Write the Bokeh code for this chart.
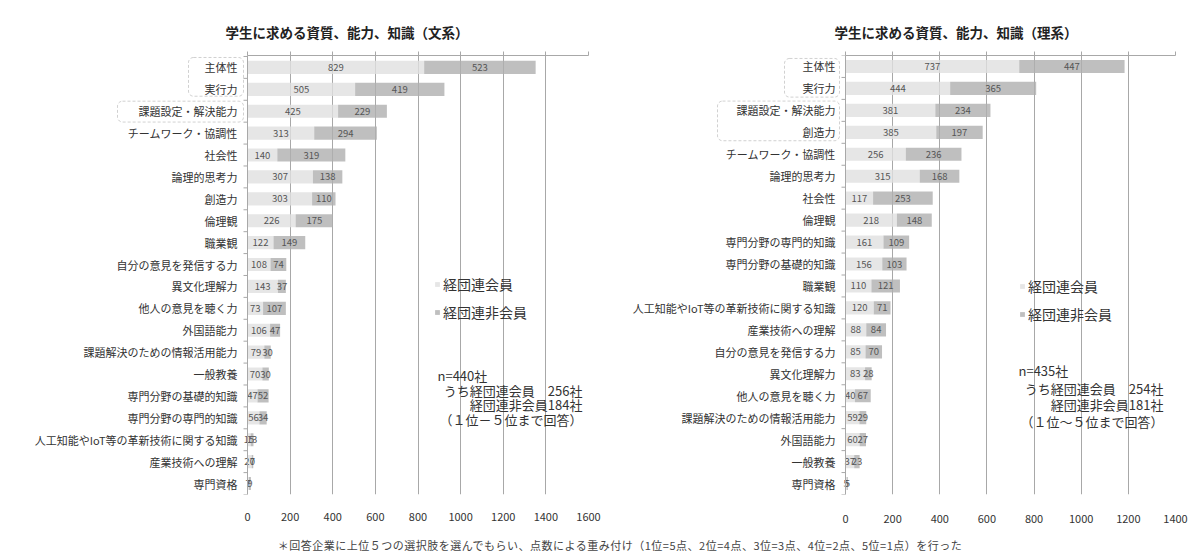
from bokeh.plotting import figure
from bokeh.models import (Range1d, FixedTicker, LinearAxis, Label, BoxAnnotation,
                          Legend, LegendItem, Div, ColumnDataSource, Span)
from bokeh.layouts import row, column
from bokeh.embed import file_html
from bokeh.resources import INLINE
from bokeh.core.properties import value

JP = "Noto Sans CJK JP"
LIGHT = "#e0e0e0"
DARK = "#afafaf"
GRID = "#a8a8a8"

# ---- data: 文系 ----
bun_title = "学生に求める資質、能力、知識（文系）"
bun_categories = ["主体性", "実行力", "課題設定・解決能力", "チームワーク・協調性", "社会性",
                  "論理的思考力", "創造力", "倫理観", "職業観", "自分の意見を発信する力",
                  "異文化理解力", "他人の意見を聴く力", "外国語能力", "課題解決のための情報活用能力",
                  "一般教養", "専門分野の基礎的知識", "専門分野の専門的知識",
                  "人工知能やIoT等の革新技術に関する知識", "産業技術への理解", "専門資格"]
bun_members = [829, 505, 425, 313, 140, 307, 303, 226, 122, 108, 143, 73, 106, 79, 70, 47, 56, 15, 20, 7]
bun_nonmembers = [523, 419, 229, 294, 319, 138, 110, 175, 149, 74, 37, 107, 47, 30, 30, 52, 34, 13, 7, 9]
bun_ticks = [0, 200, 400, 600, 800, 1000, 1200, 1400, 1600]
bun_notes = ["n=440社", "うち経団連会員　256社", "経団連非会員184社", "（１位－５位まで回答）"]

# ---- data: 理系 ----
ri_title = "学生に求める資質、能力、知識（理系）"
ri_categories = ["主体性", "実行力", "課題設定・解決能力", "創造力", "チームワーク・協調性",
                 "論理的思考力", "社会性", "倫理観", "専門分野の専門的知識", "専門分野の基礎的知識",
                 "職業観", "人工知能やIoT等の革新技術に関する知識", "産業技術への理解",
                 "自分の意見を発信する力", "異文化理解力", "他人の意見を聴く力",
                 "課題解決のための情報活用能力", "外国語能力", "一般教養", "専門資格"]
ri_members = [737, 444, 381, 385, 256, 315, 117, 218, 161, 156, 110, 120, 88, 85, 83, 40, 59, 60, 37, 5]
ri_nonmembers = [447, 365, 234, 197, 236, 168, 253, 148, 109, 103, 121, 71, 84, 70, 28, 67, 29, 27, 23, 5]
ri_ticks = [0, 200, 400, 600, 800, 1000, 1200, 1400]
ri_notes = ["n=435社", "うち経団連会員　254社", "経団連非会員181社", "（１位～５位まで回答）"]

legend_labels = ["経団連会員", "経団連非会員"]
footnote = "＊回答企業に上位５つの選択肢を選んでもらい、点数による重み付け（1位=5点、2位=4点、3位=3点、4位=2点、5位=1点）を行った"

H = 533


def make_chart(cats, mem, non, ticks, width, fig_x, zero_px, max_px, br, bt, bb,
               ystart, yend, standoff, title, title_left):
    n = len(cats)
    bl = 2
    ppu = (max_px - zero_px) / ticks[-1]          # pixels per unit
    x_start = -(zero_px - (fig_x + bl)) / ppu
    p = figure(width=width, height=H, x_range=Range1d(x_start, ticks[-1]),
               y_range=Range1d(ystart, yend), output_backend="svg",
               toolbar_location=None, tools="", min_border_left=bl,
               min_border_right=br, min_border_top=bt, min_border_bottom=bb)
    p.outline_line_color = None
    p.background_fill_color = "white"
    p.border_fill_color = "white"

    p.title.text = title
    p.title.align = "left"
    p.title.offset = title_left - (fig_x + bl)
    p.title.text_font = JP
    p.title.text_font_size = "13.5px"
    p.title.text_font_style = "bold"
    p.title.text_color = "#222222"
    p.title.standoff = 20

    rows = list(range(n))
    src = ColumnDataSource(dict(
        y=rows, cat=cats, mem=mem, tot=[a + b for a, b in zip(mem, non)],
        memc=[a / 2 for a in mem], nonc=[a + b / 2 for a, b in zip(mem, non)],
        meml=[str(a) for a in mem], nonl=[str(b) for b in non]))
    r1 = p.hbar(y="y", left=0, right="mem", height=0.6, fill_color=LIGHT,
                fill_alpha=0.8, line_color=None, source=src)
    r2 = p.hbar(y="y", left="mem", right="tot", height=0.6, fill_color=DARK,
                fill_alpha=0.8, line_color=None, source=src)
    for xc, tc in (("memc", "meml"), ("nonc", "nonl")):
        p.text(x=xc, y="y", text=tc, source=src, text_align="center",
               text_baseline="middle", text_font=value(JP),
               text_font_size="9.5px", text_color="#555555")

    # category axis (drawn at x = 0)
    p.yaxis.visible = False
    p.add_layout(Span(location=0, dimension="height", line_color=GRID, line_width=1))
    tick_len = 4 / ppu
    bounds = [i - 0.5 for i in range(n + 1)]
    p.segment(x0=[-tick_len] * len(bounds), x1=[0] * len(bounds), y0=bounds, y1=bounds,
              line_color=GRID, line_width=1)
    p.text(x=-10 / ppu, y="y", text="cat", source=src, text_align="right",
           text_baseline="middle", text_font=value(JP), text_font_size="11px",
           text_color="#333333")

    p.xaxis.ticker = FixedTicker(ticks=ticks)
    p.xaxis.axis_line_color = None
    p.xaxis.major_tick_line_color = None
    p.xaxis.minor_tick_line_color = None
    p.xaxis.major_label_standoff = standoff
    p.xaxis.major_label_text_font = JP
    p.xaxis.major_label_text_font_size = "11px"
    p.xaxis.major_label_text_color = "#333333"

    top = LinearAxis(ticker=FixedTicker(ticks=ticks), bounds=(0, ticks[-1]),
                     major_label_text_font_size="0px",
                     major_label_text_alpha=0, major_tick_in=0, major_tick_out=4,
                     axis_line_color=GRID, major_tick_line_color=GRID,
                     minor_tick_line_color=None, major_label_standoff=0)
    p.add_layout(top, "above")

    p.xgrid.ticker = FixedTicker(ticks=ticks)
    p.xgrid.grid_line_color = GRID
    p.ygrid.grid_line_color = None
    return p, r1, r2


def decorate(p, r1, r2, X, Y, notes, note_left, note_right, note_ys, boxes, leg_loc):
    for (l, r, t, b) in boxes:
        p.add_layout(BoxAnnotation(left=X(l), right=X(r), top=Y(t), bottom=Y(b),
                                   fill_alpha=0, line_color="#666666", line_width=1,
                                   line_dash="3 2", border_radius=5))
    leg = Legend(items=[LegendItem(label=legend_labels[0], renderers=[r1]),
                        LegendItem(label=legend_labels[1], renderers=[r2])],
                 location=leg_loc, label_text_font=JP, label_text_font_size="14px",
                 label_text_color="#333333", glyph_width=6, glyph_height=6,
                 label_height=20, label_standoff=3, spacing=8, padding=0, margin=0,
                 border_line_color=None, background_fill_alpha=0)
    p.add_layout(leg)
    p.add_layout(Label(x=X(note_left), y=Y(note_ys[0]), text=notes[0], text_align="left",
                       text_baseline="middle", text_font=JP, text_font_size="13px",
                       text_color="#333333"))
    for txt, yy in zip(notes[1:], note_ys[1:]):
        p.add_layout(Label(x=X(note_right), y=Y(yy), text=txt, text_align="right",
                           text_baseline="middle", text_font=JP, text_font_size="13px",
                           text_color="#333333"))


# left chart: figure x 0..608, frame x ..588 (0 at 247), y 55..497
p1, a1, b1 = make_chart(bun_categories, bun_members, bun_nonmembers, bun_ticks,
                        608, 0, 247, 588, 20, 55, H - 497, 19.5, -0.544, 12,
                        bun_title, 225)
LX = lambda px: (px - 247) / 341 * 1600
LY = lambda py: -0.544 + (py - 55) / 22.05
decorate(p1, a1, b1, LX, LY, bun_notes, 437, 582, [377, 392, 406, 421],
         [(188, 243, 57, 96), (117, 243, 101, 122)], (432, 172))

# right chart: figure x 608..1190, frame x ..1175 (0 at 845), y 51..494
p2, a2, b2 = make_chart(ri_categories, ri_members, ri_nonmembers, ri_ticks,
                        582, 608, 845, 1175, 15, 51, H - 494, 19.5, -0.5, 14,
                        ri_title, 834)
RX = lambda px: (px - 845) / 330 * 1400
RY = lambda py: -0.5 + (py - 51) / 22.15
decorate(p2, a2, b2, RX, RY, ri_notes, 1018, 1163, [369, 387, 403, 420],
         [(784, 839, 54, 93), (717, 839, 97, 137)], (409, 170))

foot = Div(text=('<div style="position:relative;left:20px;width:1190px;text-align:center;'
                 'font-family:\'Noto Sans CJK JP\';font-size:11px;letter-spacing:0.5px;'
                 'line-height:12px;color:#444;white-space:nowrap;">' + footnote + '</div>'),
           width=1190, height=12)

layout = column(row(p1, p2), foot)
open("out.html", "w").write(file_html(layout, INLINE))
